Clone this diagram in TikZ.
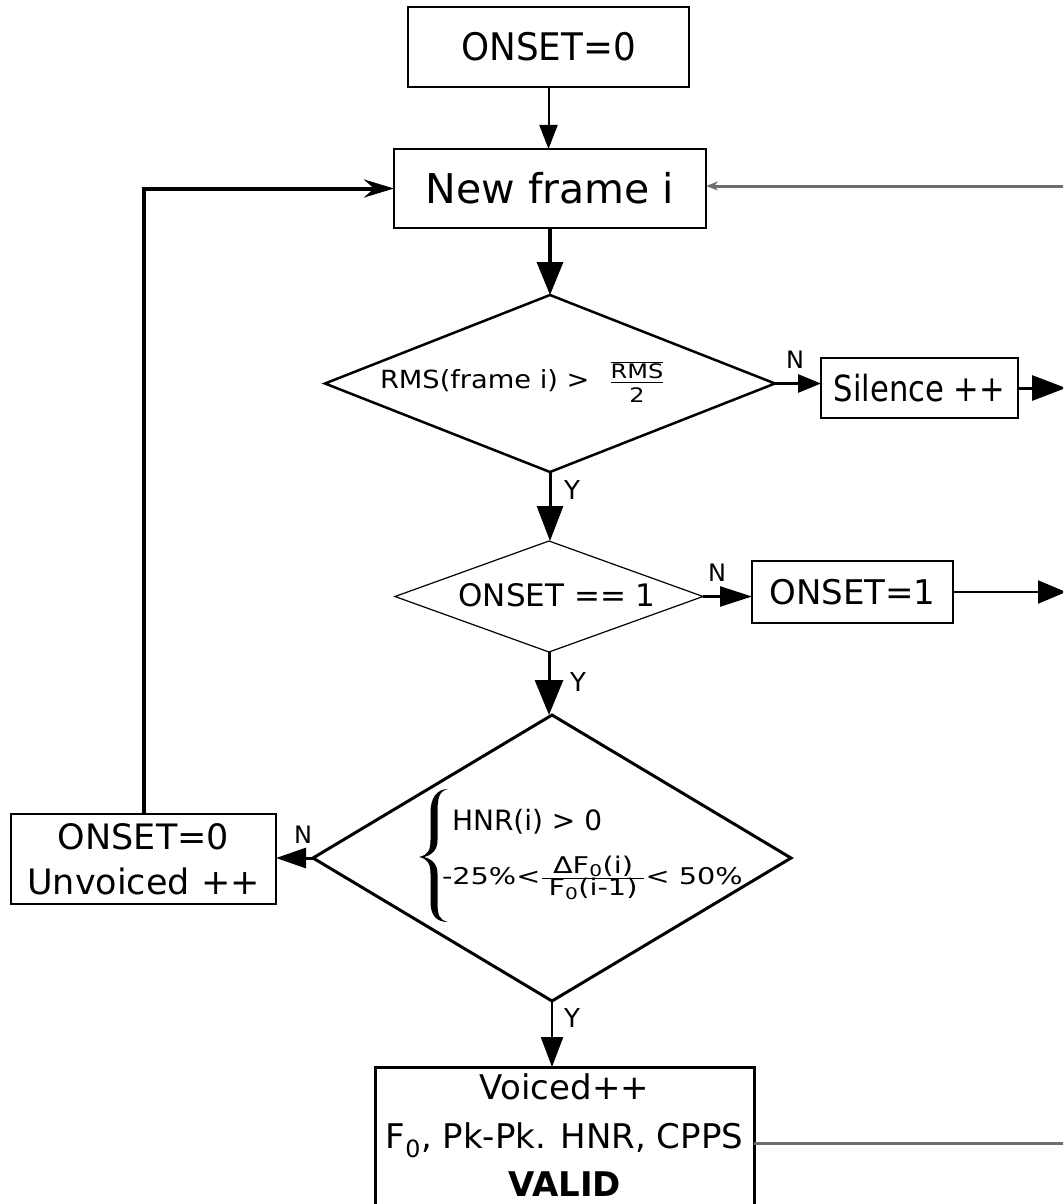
\documentclass[tikz,border=0pt]{standalone}
\usepackage{fontspec}
\setmainfont{DejaVu Sans}
\newfontfamily\fnorm{DejaVu Sans}
\newfontfamily\fcond[FakeStretch=0.85]{DejaVu Sans}
\newfontfamily\fnarr[FakeStretch=0.94]{DejaVu Sans}
\newfontfamily\fwide[FakeStretch=1.09]{DejaVu Sans}
\newfontfamily\fwidf[FakeStretch=1.2]{DejaVu Sans}
\newfontfamily\fwider[FakeStretch=1.25]{DejaVu Sans}
\usetikzlibrary{arrows.meta,shapes.geometric}
\newcommand{\sz}[2]{\fontsize{#1pt}{#2pt}\selectfont}
\definecolor{gl}{RGB}{110,110,110}
\begin{document}
\begin{tikzpicture}[x=1pt,y=-1pt,
  every node/.style={inner sep=0pt,outer sep=0pt},
  box/.style={draw,rectangle},
  dia/.style={draw,diamond,aspect=1},
  lbl/.style={font=\fnorm\sz{24}{24}},
  lbly/.style={font=\fnorm\sz{26}{26}}]
\useasboundingbox (0,0) rectangle (1063,1204);
\clip (0,0) rectangle (1063,1204);

% boxes and decisions
\node[box,line width=2pt,minimum width=281pt,minimum height=80pt,font=\fnarr\sz{38}{38}] (start) at (548.5,47) {ONSET=0};
\node[box,line width=2pt,minimum width=312pt,minimum height=79pt,font=\fnorm\sz{41}{41}] (nf) at (550,188.5) {New frame i};

\node[dia,line width=2.5pt,minimum width=450pt,minimum height=177pt] (d1) at (550,383.5) {};
\node[anchor=base west] (rmst) at (380,388) {\fwide\sz{25}{25}RMS(frame i) >\hspace{20pt}$\frac{\overline{\mbox{\fwidf\sz{20}{20}RMS}}}{\mbox{\fwidf\sz{20}{20}\rule{0pt}{20pt}2}}$};
\node[box,line width=1.5pt,minimum width=197pt,minimum height=60pt,font=\fcond\sz{36}{36}] (sil) at (919.5,388) {Silence ++};

\node[dia,line width=1.2pt,minimum width=308pt,minimum height=111pt] (d2) at (549,596.5) {};
\node[font=\fnorm\sz{31}{31}] (d2t) at (557,595) {ONSET == 1};
\node[box,line width=1.5pt,minimum width=201pt,minimum height=62pt,font=\fnorm\sz{34}{34}] (o1) at (852.5,592) {ONSET=1};

\node[dia,line width=3pt,minimum width=478pt,minimum height=286pt] (d3) at (552,858) {};
\node[anchor=base west,font=\fnorm\sz{28}{28}] (h1) at (452,830) {HNR(i) > 0};
\node[anchor=base west,font=\fwider\sz{23}{23}] (h2) at (442,884) {-25\%<$\frac{\mbox{\hspace{7pt}ΔF\textsubscript{0}(i)\hspace{7pt}}}{\mbox{\hspace{7pt}F\textsubscript{0}(i-1)\hspace{7pt}}}$< 50\%};
\fill (448,789) .. controls (439,791) and (437.5,798) .. (437.5,812) -- (437.5,840)
  .. controls (437.5,850) and (432,855) .. (424,857)
  .. controls (432,859) and (437.5,864) .. (437.5,874) -- (437.5,902)
  .. controls (437.5,915) and (439,920) .. (448,922)
  .. controls (437,922) and (430.5,916) .. (430.5,902) -- (430.5,874)
  .. controls (430.5,864) and (428,859) .. (419,857)
  .. controls (428,855) and (430.5,850) .. (430.5,840) -- (430.5,812)
  .. controls (430.5,798) and (437,789) .. (448,789) -- cycle;

\node[box,line width=2pt,minimum width=265pt,minimum height=90pt,align=center,font=\fnorm\sz{35}{45}] (unv) at (143.5,859) {ONSET=0\\Unvoiced ++};

\node[box,line width=3pt,minimum width=379pt,minimum height=152pt] (bot) at (564.5,1143) {};
\node[anchor=north,align=center,font=\fnorm\sz{34}{48.5}] (bott) at (564.5,1074) {Voiced++\\F\textsubscript{0}, Pk-Pk. HNR, CPPS\\\textbf{VALID}};

% free ends
\coordinate (ex1) at (1066,388);
\coordinate (ex2) at (1066,592);
\coordinate (ex3) at (1070,1143);
\coordinate (ex4) at (1070,186);

% connectors
\draw[line width=2pt,-{Triangle[length=24pt,width=18pt]}] (start.south) -- (start.south |- nf.north);
\draw[line width=3.5pt,-{Triangle[length=33pt,width=26pt]}] (nf.south) -- (nf.south |- d1.north);
\draw[line width=3pt,-{Triangle[length=23pt,width=18pt]}] (d1.east) -- (d1.east -| sil.west);
\draw[line width=3pt,-{Triangle[length=34pt,width=25pt]}] (sil.east) -- (ex1);
\draw[line width=3pt,-{Triangle[length=35pt,width=26pt]}] (d1.south) -- (d1.south |- d2.north);
\draw[line width=2.5pt,-{Triangle[length=32pt,width=20pt]}] (d2.east) -- (d2.east -| o1.west);
\draw[line width=2pt,-{Triangle[length=28pt,width=23pt]}] (o1.east) -- (ex2);
\draw[line width=3pt,-{Triangle[length=35pt,width=28pt]}] (d2.south) -- (d2.south |- d3.north);
\draw[line width=3pt,-{Triangle[length=30pt,width=20pt]}] (d3.west) -- (d3.west -| unv.east);
\draw[line width=4pt,-{Stealth[length=30pt,width=18pt,inset=10pt]}] (unv.north) |- (nf.west);
\draw[line width=2.5pt,-{Triangle[length=30pt,width=22pt]}] (d3.south) -- (d3.south |- bot.north);
\draw[gl,line width=3pt] (bot.east) -- (ex3);
\draw[gl,line width=3pt,-{Stealth[length=12pt,width=9pt]}] (ex4) -- (ex4 -| nf.east);

% labels
\node[lbl] (n1) at (795,360) {N};
\node[lbly] (y1) at (572,490) {Y};
\node[lbl] (n2) at (717,573) {N};
\node[lbly] (y2) at (578,682) {Y};
\node[lbl] (n3) at (303,835) {N};
\node[lbly] (y3) at (572,1018) {Y};
\end{tikzpicture}
\end{document}
